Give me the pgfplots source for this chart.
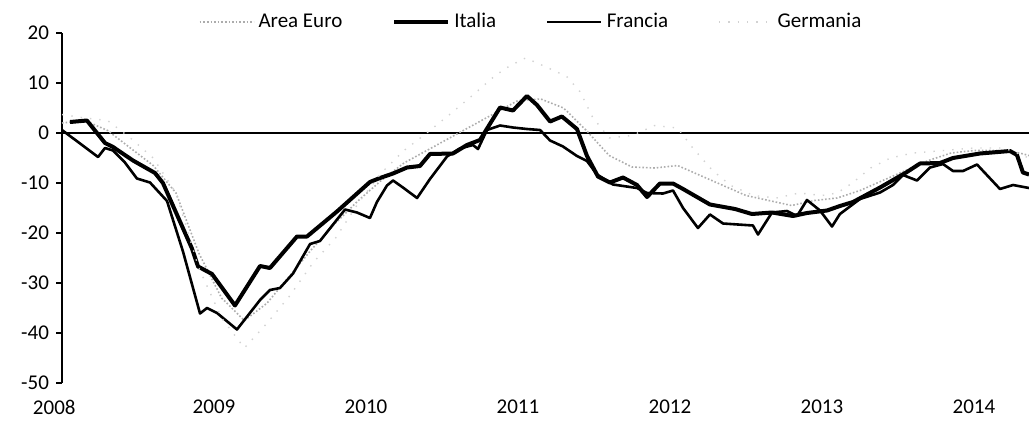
\documentclass[border=0pt]{standalone}
\usepackage{pgfplots}
\pgfplotsset{compat=1.18}
\usepackage{fontspec}
\setmainfont{Carlito}
\begin{document}
\begin{tikzpicture}
\begin{axis}[
  scale only axis, width=483.5pt, height=175pt,
  xmin=2008, xmax=2014.362, ymin=-50, ymax=20,
  axis x line*=bottom, axis y line*=left,
  axis line style={-},
  x axis line style={draw=none},
  y axis line style={black, line width=0.6pt},
  xtick={2008,2009,2010,2011,2012,2013,2014},
  xticklabels={{\rlap{\kern-14.5pt 2008}},2009,2010,2011,2012,2013,2014},
  major x tick style={draw=none},
  ytick={-50,-40,-30,-20,-10,0,10,20},
  yticklabels={-50,-40,-30,-20,-10,0,10,20},
  tick align=outside, major tick length=3pt,
  major y tick style={black, line width=0.6pt},
  tick label style={font=\fontsize{10.5pt}{12pt}\selectfont, text=black},
  xticklabel style={yshift=-2pt},
  legend columns=4,
  legend style={draw=none, fill=none, at={(axis description cs:0.135,1.031)}, anchor=west,
    font=\fontsize{10.5pt}{12pt}\selectfont,
    /tikz/every even column/.append style={column sep=23pt}},
  legend cell align=left,
  legend image code/.code={\draw[#1] (0pt,0pt) -- (27pt,0pt);},
  line join=round,
]
\addplot[forget plot, black, line width=0.6pt] coordinates {(2008,0) (2014.362,0)};
% Area Euro
\addplot[gray!65, densely dotted, line width=0.8pt] coordinates {
(2008.00,2.0) (2008.15,2.5) (2008.30,0.5) (2008.45,-3.0) (2008.60,-6.5) (2008.75,-12.0)
(2008.90,-24.0) (2009.05,-33.0) (2009.20,-37.5) (2009.35,-34.0) (2009.50,-28.5) (2009.65,-23.0)
(2009.80,-18.0) (2009.95,-13.5) (2010.10,-9.5) (2010.25,-6.0) (2010.40,-3.5) (2010.55,-1.0)
(2010.70,1.5) (2010.85,4.0) (2011.00,6.5) (2011.15,6.8) (2011.30,5.0) (2011.45,0.5)
(2011.60,-4.5) (2011.75,-6.8) (2011.90,-7.0) (2012.05,-6.5) (2012.20,-8.5) (2012.35,-10.5)
(2012.50,-12.5) (2012.65,-13.5) (2012.80,-14.5) (2012.95,-13.5) (2013.10,-13.0) (2013.25,-11.5)
(2013.40,-9.5) (2013.55,-7.5) (2013.70,-5.5) (2013.85,-4.0) (2014.00,-3.5) (2014.15,-3.5)
(2014.30,-4.0) (2014.362,-4.5)};
\addlegendentry{Area Euro}
% Italia
\addplot[black, line width=2pt] coordinates {
(2008.053,2.2) (2008.164,2.5) (2008.283,-2.0) (2008.336,-2.8) (2008.467,-5.5) (2008.612,-8.0)
(2008.664,-10.0) (2008.855,-23.1) (2008.895,-26.7) (2008.987,-28.2) (2009.138,-34.5) (2009.303,-26.6)
(2009.368,-27.0) (2009.546,-20.7) (2009.612,-20.7) (2009.809,-15.7) (2010.026,-9.8) (2010.092,-9.0)
(2010.178,-8.1) (2010.270,-6.9) (2010.355,-6.6) (2010.421,-4.2) (2010.572,-4.1) (2010.664,-2.4)
(2010.750,-1.4) (2010.882,5.1) (2010.967,4.5) (2011.059,7.4) (2011.125,5.6) (2011.211,2.3)
(2011.289,3.3) (2011.388,0.8) (2011.454,-4.6) (2011.526,-8.7) (2011.605,-9.9) (2011.691,-8.9)
(2011.783,-10.4) (2011.849,-12.8) (2011.934,-10.1) (2012.020,-10.1) (2012.086,-11.2) (2012.263,-14.3)
(2012.428,-15.2) (2012.539,-16.2) (2012.671,-15.9) (2012.809,-16.6) (2012.901,-16.0) (2013.033,-15.5)
(2013.118,-14.6) (2013.204,-13.8) (2013.382,-10.9) (2013.559,-7.8) (2013.645,-6.1) (2013.776,-6.0)
(2013.862,-5.0) (2014.039,-4.1) (2014.237,-3.6) (2014.283,-4.4) (2014.322,-7.9) (2014.362,-8.3)};
\addlegendentry{Italia}
% Francia
\addplot[black, line width=1.3pt] coordinates {
(2008.000,0.6) (2008.237,-4.8) (2008.283,-3.0) (2008.336,-3.5) (2008.414,-5.9) (2008.493,-9.1)
(2008.579,-9.9) (2008.691,-13.6) (2008.796,-23.7) (2008.908,-36.1) (2008.954,-35.0) (2009.020,-36.0)
(2009.151,-39.3) (2009.303,-33.4) (2009.368,-31.4) (2009.434,-31.0) (2009.520,-28.1) (2009.632,-22.2)
(2009.697,-21.6) (2009.862,-15.3) (2009.941,-15.9) (2010.026,-17.0) (2010.072,-13.8) (2010.138,-10.5)
(2010.178,-9.5) (2010.243,-10.9) (2010.336,-13.0) (2010.421,-9.2) (2010.533,-4.7) (2010.618,-3.1)
(2010.704,-2.4) (2010.737,-3.2) (2010.796,0.6) (2010.882,1.5) (2010.967,1.1) (2011.059,0.8)
(2011.145,0.6) (2011.211,-1.5) (2011.296,-2.7) (2011.388,-4.6) (2011.454,-5.6) (2011.520,-8.3)
(2011.625,-10.3) (2011.783,-11.0) (2011.849,-12.0) (2011.954,-12.1) (2012.020,-11.5) (2012.086,-15.0)
(2012.184,-19.0) (2012.263,-16.3) (2012.349,-18.1) (2012.546,-18.5) (2012.579,-20.3) (2012.671,-15.9)
(2012.770,-15.6) (2012.836,-16.6) (2012.901,-13.4) (2012.987,-15.5) (2013.066,-18.7) (2013.118,-16.2)
(2013.250,-13.2) (2013.382,-11.9) (2013.467,-10.4) (2013.533,-8.4) (2013.625,-9.5) (2013.711,-6.9)
(2013.796,-6.2) (2013.862,-7.6) (2013.928,-7.6) (2014.020,-6.3) (2014.171,-11.2) (2014.257,-10.4)
(2014.362,-11.0)};
\addlegendentry{Francia}
% Germania
\addplot[gray!35, loosely dotted, line width=0.7pt] coordinates {
(2008.00,3.7) (2008.15,3.0) (2008.30,2.5) (2008.45,-1.0) (2008.60,-5.0) (2008.75,-12.0)
(2008.90,-27.0) (2009.05,-37.0) (2009.20,-43.0) (2009.35,-38.0) (2009.50,-32.5) (2009.65,-26.0)
(2009.80,-21.0) (2009.95,-14.0) (2010.10,-8.0) (2010.25,-3.5) (2010.40,0.0) (2010.55,3.7)
(2010.70,7.5) (2010.85,11.5) (2010.95,13.5) (2011.05,15.0) (2011.20,13.0) (2011.32,11.3)
(2011.41,8.2) (2011.49,3.2) (2011.60,-1.0) (2011.75,-0.5) (2011.90,1.5) (2012.05,1.0)
(2012.15,-3.0) (2012.28,-7.5) (2012.40,-10.5) (2012.55,-12.5) (2012.70,-13.0) (2012.85,-12.0)
(2013.00,-12.5) (2013.10,-12.0) (2013.20,-10.0) (2013.32,-7.0) (2013.45,-5.0) (2013.60,-4.0)
(2013.80,-3.5) (2014.00,-3.0) (2014.20,-3.0) (2014.362,-5.0)};
\addlegendentry{Germania}
\end{axis}
\pgfresetboundingbox
\path[use as bounding box] (-31pt,-21pt) rectangle (483.5pt,191.5pt);
\end{tikzpicture}
\end{document}
